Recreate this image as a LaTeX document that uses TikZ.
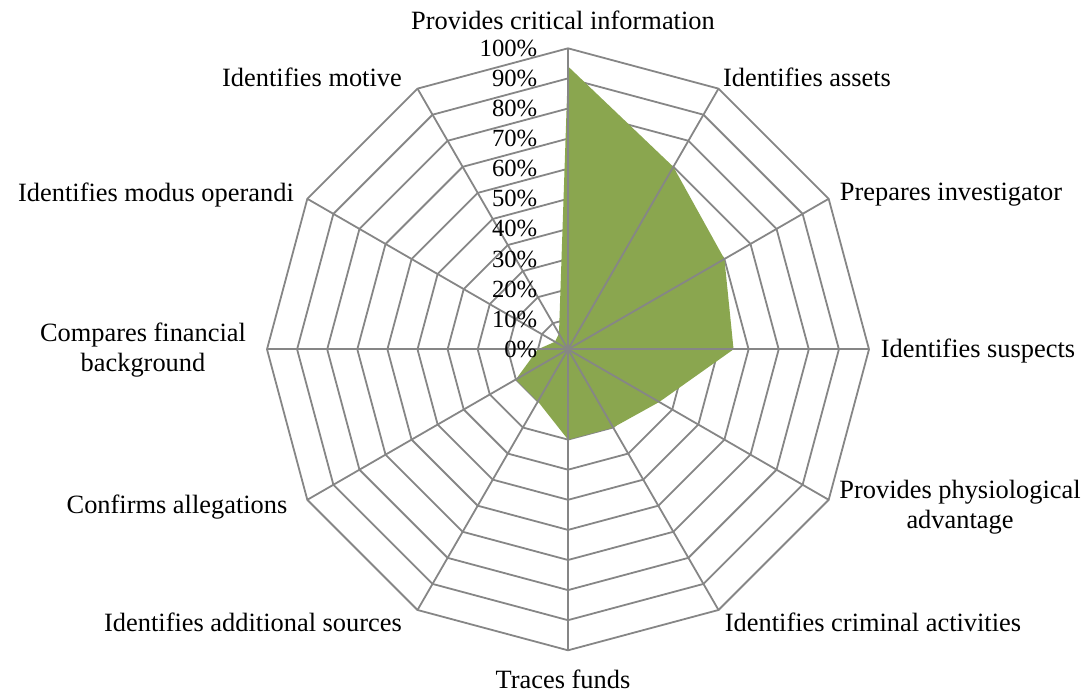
\documentclass[tikz,border=0pt]{standalone}
\usepackage{fontspec}
\setmainfont{Liberation Serif}
\definecolor{gridgray}{HTML}{868686}
\definecolor{radargreen}{HTML}{8AA64F}
\begin{document}
\begin{tikzpicture}[x=0.75pt,y=-0.75pt,
  gridline/.style={draw=gridgray,line width=1.35pt,line join=miter},
  datafill/.style={fill=radargreen},
  cat/.style={font=\fontsize{19.8}{22.5}\selectfont,align=center,inner sep=0pt},
  ticklbl/.style={font=\fontsize{18.5}{20}\selectfont,anchor=east,inner sep=0pt}]
\useasboundingbox (0,0) rectangle (1088,693);
\def\cx{568}\def\cy{349.3}\def\R{301}
\coordinate (o) at (\cx,\cy);
% grid rings
\foreach \j in {1,...,10}{
  \draw[gridline] ({\cx},{\cy-\R*\j/10})
    \foreach \k in {1,...,11}{ -- ({\cx+sin(30*\k)*\R*\j/10},{\cy-cos(30*\k)*\R*\j/10}) } -- cycle;
}
% data
\foreach \k/\v in {0/94,1/70,2/60,3/55,4/35,5/30,6/30,7/20,8/20,9/10,10/5,11/6}{
  \coordinate (d\k) at ({\cx+sin(30*\k)*(\R/100)*\v},{\cy-cos(30*\k)*(\R/100)*\v});
}
\fill[datafill] (d0) -- (d1) -- (d2) -- (d3) -- (d4) -- (d5) -- (d6) -- (d7) -- (d8) -- (d9) -- (d10) -- (d11) -- cycle;
% spokes
\foreach \k in {0,...,11}{
  \coordinate (a\k) at ({\cx+sin(30*\k)*\R},{\cy-cos(30*\k)*\R});
  \draw[gridline] (o) -- (a\k);
}
% tick labels
\foreach \j in {0,...,10}{
  \pgfmathtruncatemacro\pc{10*\j}
  \node[ticklbl] (t\j) at (537.5,{\cy-30.1*\j}) {\pc\%};
}
% category labels
\node[cat] (l0) at (563,20) {Provides critical information};
\node[cat] (l1) at (807,77) {Identifies assets};
\node[cat] (l2) at (951,195) {Prepares investigator};
\node[cat] (l3) at (978,351) {Identifies suspects};
\node[cat] (l4) at (960,507) {Provides physiological\\advantage};
\node[cat] (l5) at (873,622) {Identifies criminal activities};
\node[cat] (l6) at (563,679) {Traces funds};
\node[cat] (l7) at (253,622) {Identifies additional sources};
\node[cat] (l8) at (177,507) {Confirms allegations};
\node[cat] (l9) at (143,350) {Compares financial\\background};
\node[cat] (l10) at (156,195) {Identifies modus operandi};
\node[cat] (l11) at (312,77) {Identifies motive};
\end{tikzpicture}
\end{document}
